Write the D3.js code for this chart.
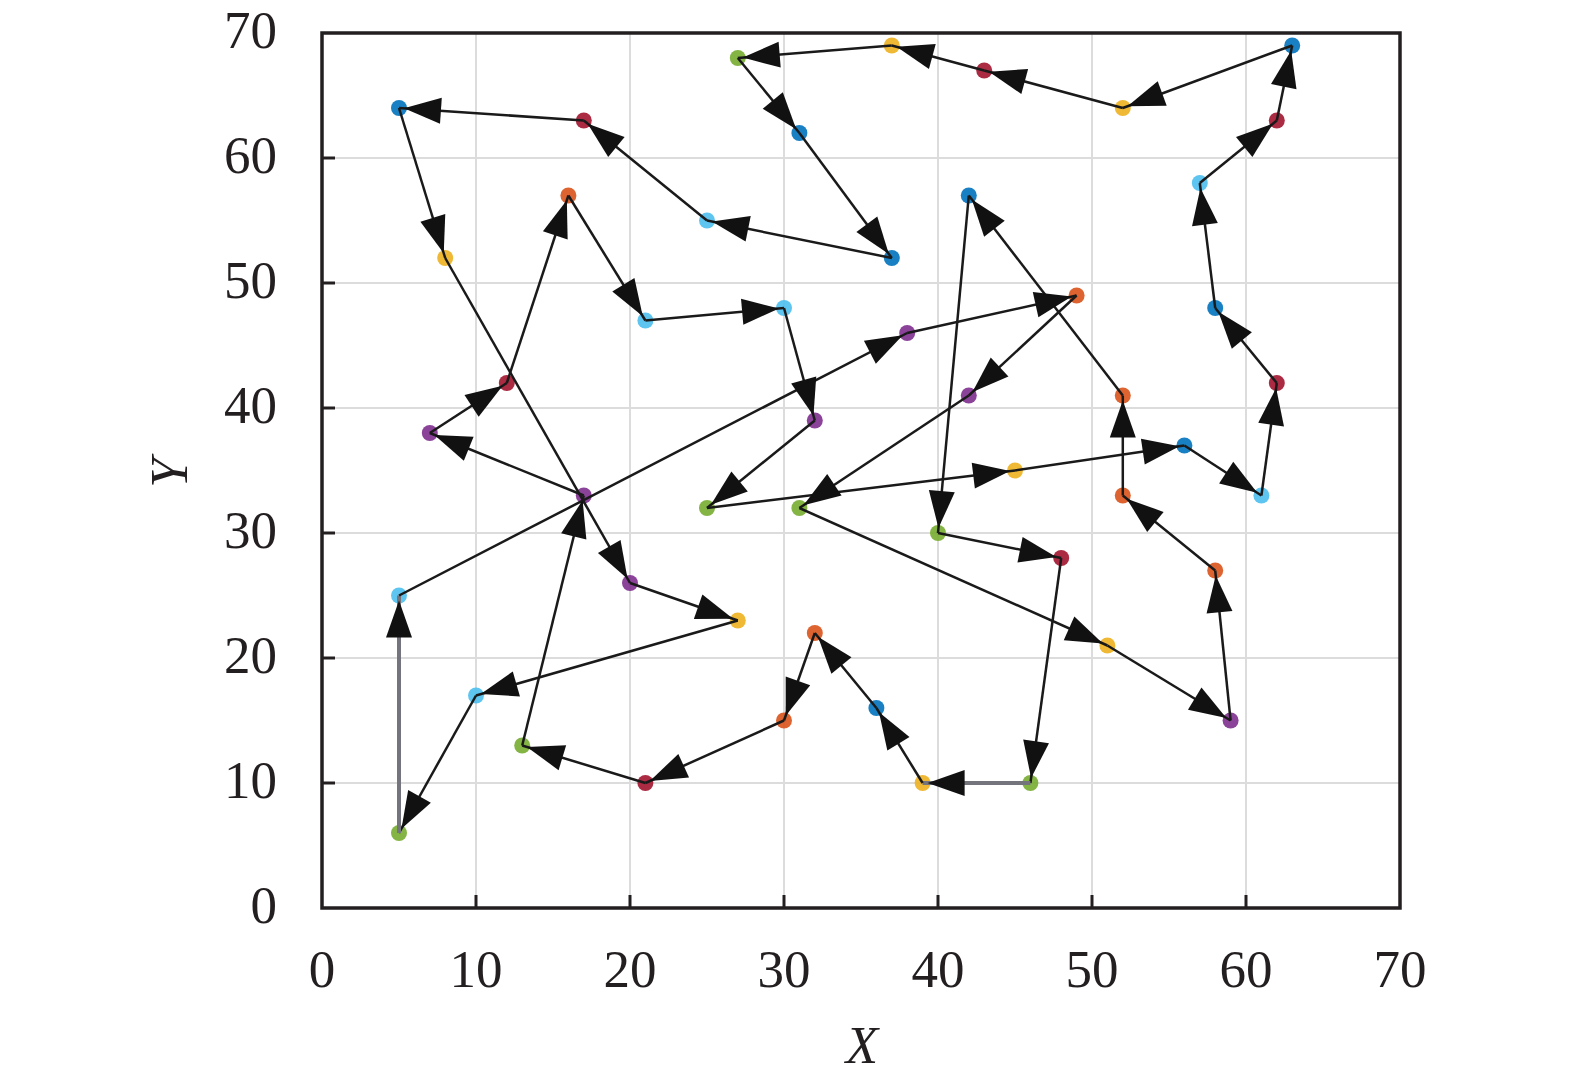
<!DOCTYPE html>
<html>
<head>
<meta charset="utf-8">
<script src="https://cdn.jsdelivr.net/npm/d3@7"></script>
<style>
  body { margin: 0; background: #fff; }
  svg text { font-family: "Liberation Serif", "Times New Roman", Tinos, serif; fill: #231f20; }
  .grid line { stroke: #dcdcdc; stroke-width: 2; }
  .frame { fill: none; stroke: #231f20; stroke-width: 3.5; }
  .tick-in { stroke: #231f20; stroke-width: 3; }
  .leg { stroke: #1a1a1a; stroke-width: 2.5; fill: none; }
  .leg.grey { stroke: #74747c; stroke-width: 4; }
  .head { fill: #111; }
</style>
</head>
<body>
<div id="chart"></div>
<script>
// tour of the 50 cities, in visiting order (the last one goes back to the first)
let tourX = [5, 8, 20, 27, 10, 5, 5, 38, 49, 42, 31, 51, 59, 58, 52, 52, 42, 40, 48, 46,
             39, 36, 32, 30, 21, 13, 17, 7, 12, 16, 21, 30, 32, 25, 45, 56, 61, 62, 58, 57,
             62, 63, 52, 43, 37, 27, 31, 37, 25, 17];
let tourY = [64, 52, 26, 23, 17, 6, 25, 46, 49, 41, 32, 21, 15, 27, 33, 41, 57, 30, 28, 10,
             10, 16, 22, 15, 10, 13, 33, 38, 42, 57, 47, 48, 39, 32, 35, 37, 33, 42, 48, 58,
             63, 69, 64, 67, 69, 68, 62, 52, 55, 63];
// colour group of every city (index into the palette below)
let cityGroup = [0, 2, 3, 2, 5, 4, 5, 3, 1, 3, 4, 2, 3, 1, 1, 1, 0, 4, 6, 4,
                 2, 0, 1, 1, 6, 4, 3, 3, 6, 1, 5, 5, 3, 4, 2, 0, 5, 6, 0, 5,
                 6, 0, 2, 6, 2, 4, 0, 0, 5, 6];
// legs that came out grey in the figure (index of the leg's start city)
let greyLegs = [5, 19];

let xTicks = [0, 10, 20, 30, 40, 50, 60, 70];
let yTicks = [0, 10, 20, 30, 40, 50, 60, 70];

let palette = ["#0072BD", "#D95319", "#EDB120", "#7E2F8E", "#77AC30", "#4DBEEE", "#A2142F"];

let total_width = 1575;
let total_height = 1085;
let plotL = 322, plotR = 1400, plotT = 33, plotB = 908;

var x = d3.scaleLinear().domain([0, 70]).range([plotL, plotR]);
var y = d3.scaleLinear().domain([0, 70]).range([plotB, plotT]);

var svg = d3.select("#chart").append("svg")
    .attr("width", total_width)
    .attr("height", total_height);

// grid
let grid = svg.append("g").attr("class", "grid");
grid.selectAll(".gx").data(xTicks.slice(1, -1)).enter().append("line")
    .attr("x1", d => x(d)).attr("x2", d => x(d))
    .attr("y1", plotT).attr("y2", plotB);
grid.selectAll(".gy").data(yTicks.slice(1, -1)).enter().append("line")
    .attr("x1", plotL).attr("x2", plotR)
    .attr("y1", d => y(d)).attr("y2", d => y(d));

// cities
let cities = tourX.map((v, i) => ({x: v, y: tourY[i], g: cityGroup[i]}));
svg.append("g").selectAll("circle").data(cities).enter().append("circle")
    .attr("cx", d => x(d.x))
    .attr("cy", d => y(d.y))
    .attr("r", 8)
    .attr("fill", d => palette[d.g])
    .attr("opacity", 0.9);

// legs of the tour
let legs = cities.map((c, i) => ({from: c, to: cities[(i + 1) % cities.length], i: i}));
svg.append("g").selectAll("line").data(legs).enter().append("line")
    .attr("class", d => greyLegs.indexOf(d.i) >= 0 ? "leg grey" : "leg")
    .attr("x1", d => x(d.from.x)).attr("y1", d => y(d.from.y))
    .attr("x2", d => x(d.to.x)).attr("y2", d => y(d.to.y));

// arrow heads, tip just short of the target city
let headLen = 37, headHalf = 13, tipGap = 5;
function headPath(d) {
  let x1 = x(d.from.x), y1 = y(d.from.y), x2 = x(d.to.x), y2 = y(d.to.y);
  let len = Math.hypot(x2 - x1, y2 - y1);
  let ux = (x2 - x1) / len, uy = (y2 - y1) / len;
  let tx = x2 - ux * tipGap, ty = y2 - uy * tipGap;
  let bx = tx - ux * headLen, by = ty - uy * headLen;
  return "M" + tx + "," + ty +
         "L" + (bx - uy * headHalf) + "," + (by + ux * headHalf) +
         "L" + (bx + uy * headHalf) + "," + (by - ux * headHalf) + "Z";
}
svg.append("g").selectAll("path").data(legs).enter().append("path")
    .attr("class", "head")
    .attr("d", headPath);

// frame and inward ticks (left and bottom only)
svg.append("rect").attr("class", "frame")
    .attr("x", plotL).attr("y", plotT)
    .attr("width", plotR - plotL).attr("height", plotB - plotT);
svg.append("g").selectAll("line").data(xTicks.slice(1, -1)).enter().append("line")
    .attr("class", "tick-in")
    .attr("x1", d => x(d)).attr("x2", d => x(d))
    .attr("y1", plotB).attr("y2", plotB - 13);
svg.append("g").selectAll("line").data(yTicks.slice(1, -1)).enter().append("line")
    .attr("class", "tick-in")
    .attr("x1", plotL).attr("x2", plotL + 13)
    .attr("y1", d => y(d)).attr("y2", d => y(d));

// tick labels
svg.append("g").selectAll("text").data(xTicks).enter().append("text")
    .attr("x", d => x(d))
    .attr("y", 987)
    .attr("text-anchor", "middle")
    .attr("font-size", 53)
    .text(d => d);
svg.append("g").selectAll("text").data(yTicks).enter().append("text")
    .attr("x", 277)
    .attr("y", d => y(d) + 15)
    .attr("text-anchor", "end")
    .attr("font-size", 53)
    .text(d => d);

// axis titles
svg.append("text")
    .attr("x", 862).attr("y", 1063)
    .attr("text-anchor", "middle")
    .attr("font-size", 53)
    .attr("font-style", "italic")
    .text("X");
svg.append("text")
    .attr("transform", "translate(187,473) rotate(-90)")
    .attr("text-anchor", "middle")
    .attr("font-size", 53)
    .attr("font-style", "italic")
    .text("Y");
</script>
</body>
</html>
